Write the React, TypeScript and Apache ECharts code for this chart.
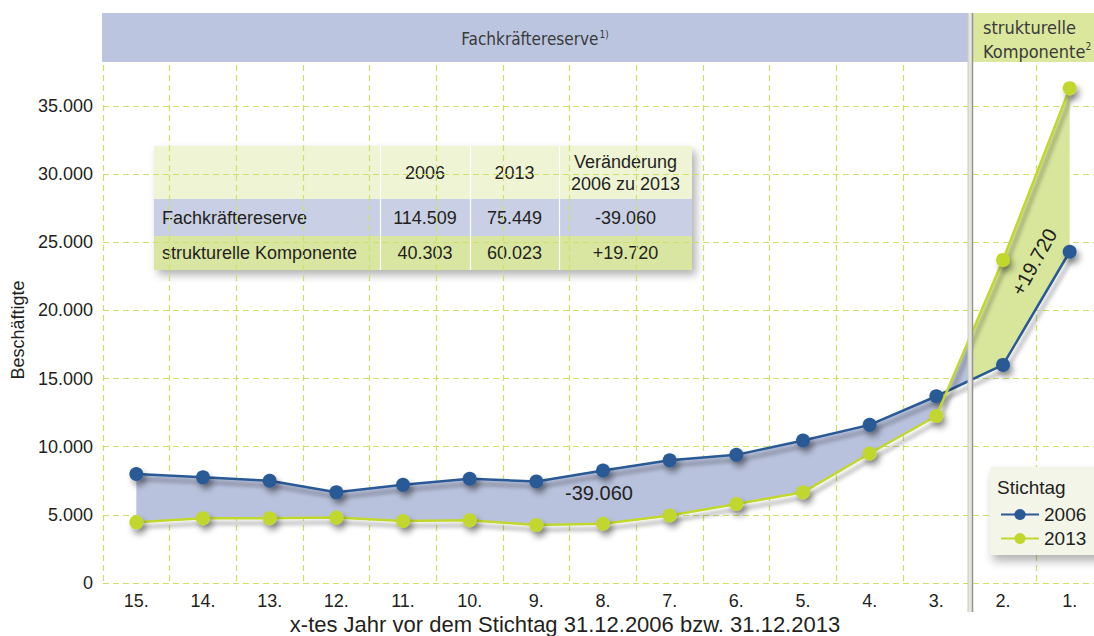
import React, { useEffect, useRef } from "react";
import * as echarts from "echarts";

const categories = ["15.", "14.", "13.", "12.", "11.", "10.", "9.", "8.", "7.", "6.", "5.", "4.", "3.", "2.", "1."];
const values2006 = [8000, 7750, 7500, 6650, 7200, 7650, 7450, 8250, 9000, 9400, 10450, 11600, 13700, 16000, 24300];
const values2013 = [4450, 4750, 4750, 4800, 4550, 4600, 4250, 4350, 4950, 5800, 6650, 9500, 12250, 23700, 36300];
const reserveYears = 13; // 15. ... 3. = Fachkräftereserve, 2. and 1. = strukturelle Komponente

const yMin = 0;
const yMax = 38000;
const yInterval = 5000;

const tableHeader = ["", "2006", "2013", "Veränderung\n2006 zu 2013"];
const tableRowReserve = ["Fachkräftereserve", "114.509", "75.449", "-39.060"];
const tableRowStruct = ["strukturelle Komponente", "40.303", "60.023", "+19.720"];
const diffReserveLabel = "-39.060";
const diffStructLabel = "+19.720";

const FONT = "'Liberation Sans', Arial, sans-serif";
const COND = "'DejaVu Sans Condensed', 'Liberation Sans Narrow', Roboto, sans-serif";
const TXT = "#231f20";
const BLUE = "#2a5a96";
const GREEN = "#c2d72e";
const GRIDC = "#cfe06a";

function fmt(v: number) {
  return String(v).replace(/\B(?=(\d{3})+(?!\d))/g, ".");
}

export default function App() {
  const ref = useRef<HTMLDivElement>(null);
  useEffect(() => {
    if (!ref.current) return;
    const chart = echarts.init(ref.current, null, { renderer: "svg" });

    const shadow = { shadowBlur: 6, shadowOffsetX: 3, shadowOffsetY: 5, shadowColor: "rgba(0,0,0,0.4)" };

    const colX = [154, 380, 470, 559, 692];
    const rowY = [146, 199, 236, 270];
    const rowFill = ["#eff4d4", "#c9d0e5", "#d9e6a1"];
    const rows = [tableHeader, tableRowReserve, tableRowStruct];
    const tableChildren: any[] = [
      {
        type: "rect",
        shape: { x: colX[0], y: rowY[0], width: colX[4] - colX[0], height: rowY[3] - rowY[0] },
        style: { fill: "#eff4d4", shadowBlur: 8, shadowOffsetX: 4, shadowOffsetY: 5, shadowColor: "rgba(0,0,0,0.3)" },
      },
    ];
    rows.forEach((row, r) => {
      tableChildren.push({
        type: "rect",
        shape: { x: colX[0], y: rowY[r], width: colX[4] - colX[0], height: rowY[r + 1] - rowY[r] },
        style: { fill: rowFill[r] },
      });
    });
    [1, 2, 3].forEach((c) => {
      tableChildren.push({
        type: "line",
        shape: { x1: colX[c] + 0.5, y1: rowY[0], x2: colX[c] + 0.5, y2: rowY[3] },
        style: { stroke: "#ffffff", lineWidth: 1.2 },
      });
    });
    rows.forEach((row, r) => {
      row.forEach((cell, c) => {
        if (!cell) return;
        const cy = (rowY[r] + rowY[r + 1]) / 2;
        const left = c === 0;
        tableChildren.push({
          type: "text",
          x: left ? colX[0] + 8 : (colX[c] + colX[c + 1]) / 2,
          y: cy,
          style: {
            text: cell,
            font: `18px ${FONT}`,
            fill: TXT,
            align: left ? "left" : "center",
            verticalAlign: "middle",
            lineHeight: 22,
          },
        });
      });
    });

    chart.setOption({
      animation: false,
      backgroundColor: "#ffffff",
      grid: { left: 103, top: 65, width: 1000, height: 518, containLabel: false },
      xAxis: {
        type: "category",
        data: categories,
        boundaryGap: true,
        axisLine: { show: false },
        axisTick: { show: false },
        axisLabel: { fontSize: 18, color: TXT, fontFamily: FONT, margin: 9 },
        splitLine: { show: true, lineStyle: { color: GRIDC, type: [6, 4], width: 1.2 } },
      },
      yAxis: {
        type: "value",
        min: yMin,
        max: yMax,
        interval: yInterval,
        axisLine: { show: false },
        axisTick: { show: false },
        axisLabel: {
          fontSize: 18,
          color: TXT,
          fontFamily: FONT,
          margin: 10,
          showMaxLabel: false,
          formatter: (v: number) => (v % yInterval === 0 ? fmt(v) : ""),
        },
        splitLine: { show: true, showMaxLine: false, lineStyle: { color: GRIDC, type: [6, 4], width: 1.2 } },
      },
      legend: {
        data: ["2006", "2013"],
        orient: "vertical",
        left: 995,
        top: 500,
        itemWidth: 38,
        itemHeight: 14,
        itemGap: 5,
        textStyle: { fontSize: 19, color: TXT, fontFamily: FONT },
        z: 20,
      },
      series: [
        {
          type: "custom",
          coordinateSystem: "cartesian2d",
          silent: true,
          z: 1,
          data: [[0, 0]],
          renderItem: (params: any, api: any) => {
            const b = values2006.map((v, i) => api.coord([i, v]));
            const g = values2013.map((v, i) => api.coord([i, v]));
            const k = reserveYears - 1;
            const mid = (p: number[], q: number[]) => [(p[0] + q[0]) / 2, (p[1] + q[1]) / 2];
            const bm = mid(b[k], b[k + 1]);
            const gm = mid(g[k], g[k + 1]);
            const lav = [...b.slice(0, k + 1), bm, gm, ...g.slice(0, k + 1).reverse()];
            const grn = [bm, ...b.slice(k + 1), ...g.slice(k + 1).reverse(), gm];
            return {
              type: "group",
              children: [
                { type: "polygon", shape: { points: lav }, style: { fill: "#b9c2dd" } },
                { type: "polygon", shape: { points: grn }, style: { fill: "#d8e69c" } },
              ],
            };
          },
        },
        {
          name: "2006",
          type: "line",
          data: values2006,
          z: 3,
          symbol: "circle",
          symbolSize: 14,
          color: BLUE,
          itemStyle: { color: BLUE, ...shadow },
          lineStyle: { color: BLUE, width: 2.5, ...shadow, shadowBlur: 4 },
        },
        {
          name: "2013",
          type: "line",
          data: values2013,
          z: 4,
          symbol: "circle",
          symbolSize: 14,
          color: GREEN,
          itemStyle: { color: GREEN, ...shadow },
          lineStyle: { color: GREEN, width: 2.5, ...shadow, shadowBlur: 4 },
        },
      ],
      graphic: [
        // header bands
        { type: "rect", z: 10, shape: { x: 102, y: 13, width: 866, height: 49 }, style: { fill: "#bcc5df" } },
        { type: "rect", z: 10, shape: { x: 973, y: 13, width: 140, height: 49 }, style: { fill: "#dbe79d" } },
        // separator
        { type: "rect", z: 11, shape: { x: 968, y: 13, width: 4, height: 599 }, style: { fill: "#e7e7df" } },
        { type: "line", z: 11, shape: { x1: 968, y1: 13, x2: 968, y2: 612 }, style: { stroke: "#c8c8c2", lineWidth: 1 } },
        { type: "line", z: 11, shape: { x1: 972.5, y1: 13, x2: 972.5, y2: 612 }, style: { stroke: "#949490", lineWidth: 1.5 } },
        {
          type: "text",
          z: 12,
          x: 535,
          y: 39,
          style: {
            text: "{a|Fachkräftereserve}{s|1)}",
            align: "center",
            verticalAlign: "middle",
            rich: {
              a: { font: `17px ${COND}`, fill: "#3a3a3a" },
              s: { font: `10px ${COND}`, fill: "#3a3a3a", padding: [0, 0, 9, 1] },
            },
          },
        },
        {
          type: "text",
          z: 12,
          x: 983,
          y: 27,
          style: { text: "strukturelle", font: `18px ${COND}`, fill: "#3a3a3a", align: "left", verticalAlign: "middle" },
        },
        {
          type: "text",
          z: 12,
          x: 983,
          y: 51,
          style: {
            text: "{a|Komponente}{s|2}",
            align: "left",
            verticalAlign: "middle",
            rich: {
              a: { font: `18px ${COND}`, fill: "#3a3a3a" },
              s: { font: `10px ${COND}`, fill: "#3a3a3a", padding: [0, 0, 9, 0] },
            },
          },
        },
        // table
        { type: "group", z: 15, children: tableChildren },
        // difference labels
        {
          type: "text",
          z: 16,
          x: 599,
          y: 493,
          style: { text: diffReserveLabel, font: `20px ${FONT}`, fill: TXT, align: "center", verticalAlign: "middle" },
        },
        {
          type: "text",
          z: 16,
          x: 1034,
          y: 262,
          rotation: (61 * Math.PI) / 180,
          style: { text: diffStructLabel, font: `20px ${FONT}`, fill: TXT, align: "center", verticalAlign: "middle" },
        },
        // legend box
        {
          type: "rect",
          z: 18,
          shape: { x: 990, y: 467, width: 130, height: 88 },
          style: { fill: "#f4f5e9", shadowBlur: 10, shadowOffsetX: 3, shadowOffsetY: 6, shadowColor: "rgba(0,0,0,0.3)" },
        },
        {
          type: "text",
          z: 19,
          x: 997,
          y: 487,
          style: { text: "Stichtag", font: `19px ${FONT}`, fill: TXT, align: "left", verticalAlign: "middle" },
        },
        // axis titles
        {
          type: "text",
          z: 16,
          x: 565,
          y: 624,
          style: {
            text: "x-tes Jahr vor dem Stichtag 31.12.2006 bzw. 31.12.2013",
            font: `22px ${FONT}`,
            fill: TXT,
            align: "center",
            verticalAlign: "middle",
          },
        },
        {
          type: "text",
          z: 16,
          x: 18,
          y: 330,
          rotation: Math.PI / 2,
          style: { text: "Beschäftigte", font: `18px ${FONT}`, fill: TXT, align: "center", verticalAlign: "middle" },
        },
      ],
    });
    return () => chart.dispose();
  }, []);
  return <div ref={ref} style={{ position: "fixed", left: 0, top: 0, width: 1112, height: 636 }} />;
}
